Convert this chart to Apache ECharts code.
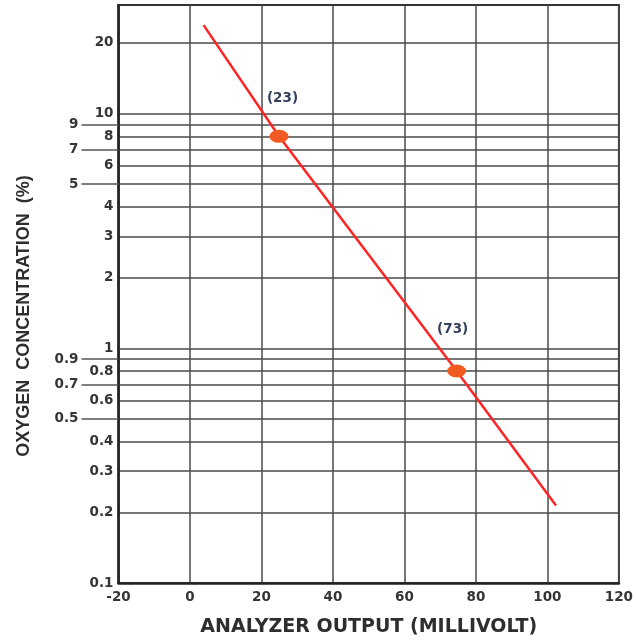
<!DOCTYPE html>
<html>
<head>
<meta charset="utf-8">
<script src="https://cdn.jsdelivr.net/npm/echarts@6/dist/echarts.min.js"></script>
<style>
html,body{margin:0;padding:0;background:#fff;}
#c{width:636px;height:643px;}
</style>
</head>
<body>
<div id="c"></div>
<script>
// X axis ticks (millivolt)
const xMin = -20, xMax = 120, xStep = 20;
// Y axis (log, %) gridline values
const yGridValues = [0.1,0.2,0.3,0.4,0.5,0.6,0.7,0.8,0.9,1,2,3,4,5,6,7,8,9,10,20];
// labels next to the axis
const yLabelsNear = [0.1,0.2,0.3,0.4,0.6,0.8,1,2,3,4,6,8,10,20];
// labels set further out with a long tick
const yLabelsFar = [0.5,0.7,0.9,5,7,9];
// calibration line: [mV, %]
const lineData = [[3.8,23.8],[24.9,8],[74.6,0.8],[102.4,0.214]];
// marked calibration points
const pointData = [[24.9,8],[74.6,0.8]];
const pointLabels = ['(23)','(73)'];

const labelFont = {fontFamily:'DejaVu Sans', fontWeight:'bold', fontSize:13.5, color:'#353535'};

const chart = echarts.init(document.getElementById('c'), null, {renderer:'canvas'});
chart.setOption({
  animation:false,
  backgroundColor:'#fff',
  grid:{left:118.5, right:13, top:5, bottom:60, show:true, borderColor:'#333', borderWidth:2, containLabel:false},
  xAxis:{
    type:'value', min:xMin, max:xMax, interval:xStep,
    axisLine:{show:true, onZero:false, lineStyle:{color:'#222', width:2.5}},
    axisTick:{show:false},
    splitLine:{show:true, lineStyle:{color:'#4a4a4a', width:1.5}},
    axisLabel:Object.assign({margin:7}, labelFont),
    name:'ANALYZER OUTPUT (MILLIVOLT)', nameLocation:'middle', nameGap:35,
    nameTextStyle:{fontFamily:'DejaVu Sans', fontWeight:'bold', fontSize:19, color:'#2e2e2e'}
  },
  yAxis:[{
    type:'log', logBase:10, min:0.1, max:29,
    axisLine:{show:true, onZero:false, lineStyle:{color:'#222', width:2.5}},
    axisTick:{show:false, customValues:yGridValues},
    splitLine:{show:true, lineStyle:{color:'#4a4a4a', width:1.5}},
    axisLabel:Object.assign({margin:5, customValues:yLabelsNear}, labelFont),
    name:'OXYGEN  CONCENTRATION  (%)', nameLocation:'middle', nameRotate:90, nameGap:85,
    nameTextStyle:{fontFamily:'Liberation Sans', fontWeight:'bold', fontSize:18, color:'#2e2e2e', padding:[0,44,0,0]}
  },{
    type:'log', logBase:10, min:0.1, max:29, position:'left',
    axisLine:{show:false, onZero:false},
    axisTick:{show:true, customValues:yLabelsFar, length:37, lineStyle:{color:'#555', width:1.5}},
    splitLine:{show:false},
    axisLabel:Object.assign({margin:40, customValues:yLabelsFar}, labelFont)
  }],
  series:[{
    type:'line', data:lineData, symbol:'none', yAxisIndex:0,
    lineStyle:{color:'#ff2424', width:2.5}, z:3
  },{
    type:'scatter', data:pointData.map((p,i)=>({value:p, label:{formatter:pointLabels[i], offset: i===0?[3.5,-37.5]:[-4,-42]}})),
    symbol:'circle', symbolSize:[19,13], itemStyle:{color:'#f15a22', opacity:1}, z:4,
    label:{show:true, position:'inside', fontFamily:'DejaVu Sans', fontWeight:'bold', fontSize:13.5, color:'#34405e'}
  }]
});
</script>
</body>
</html>
